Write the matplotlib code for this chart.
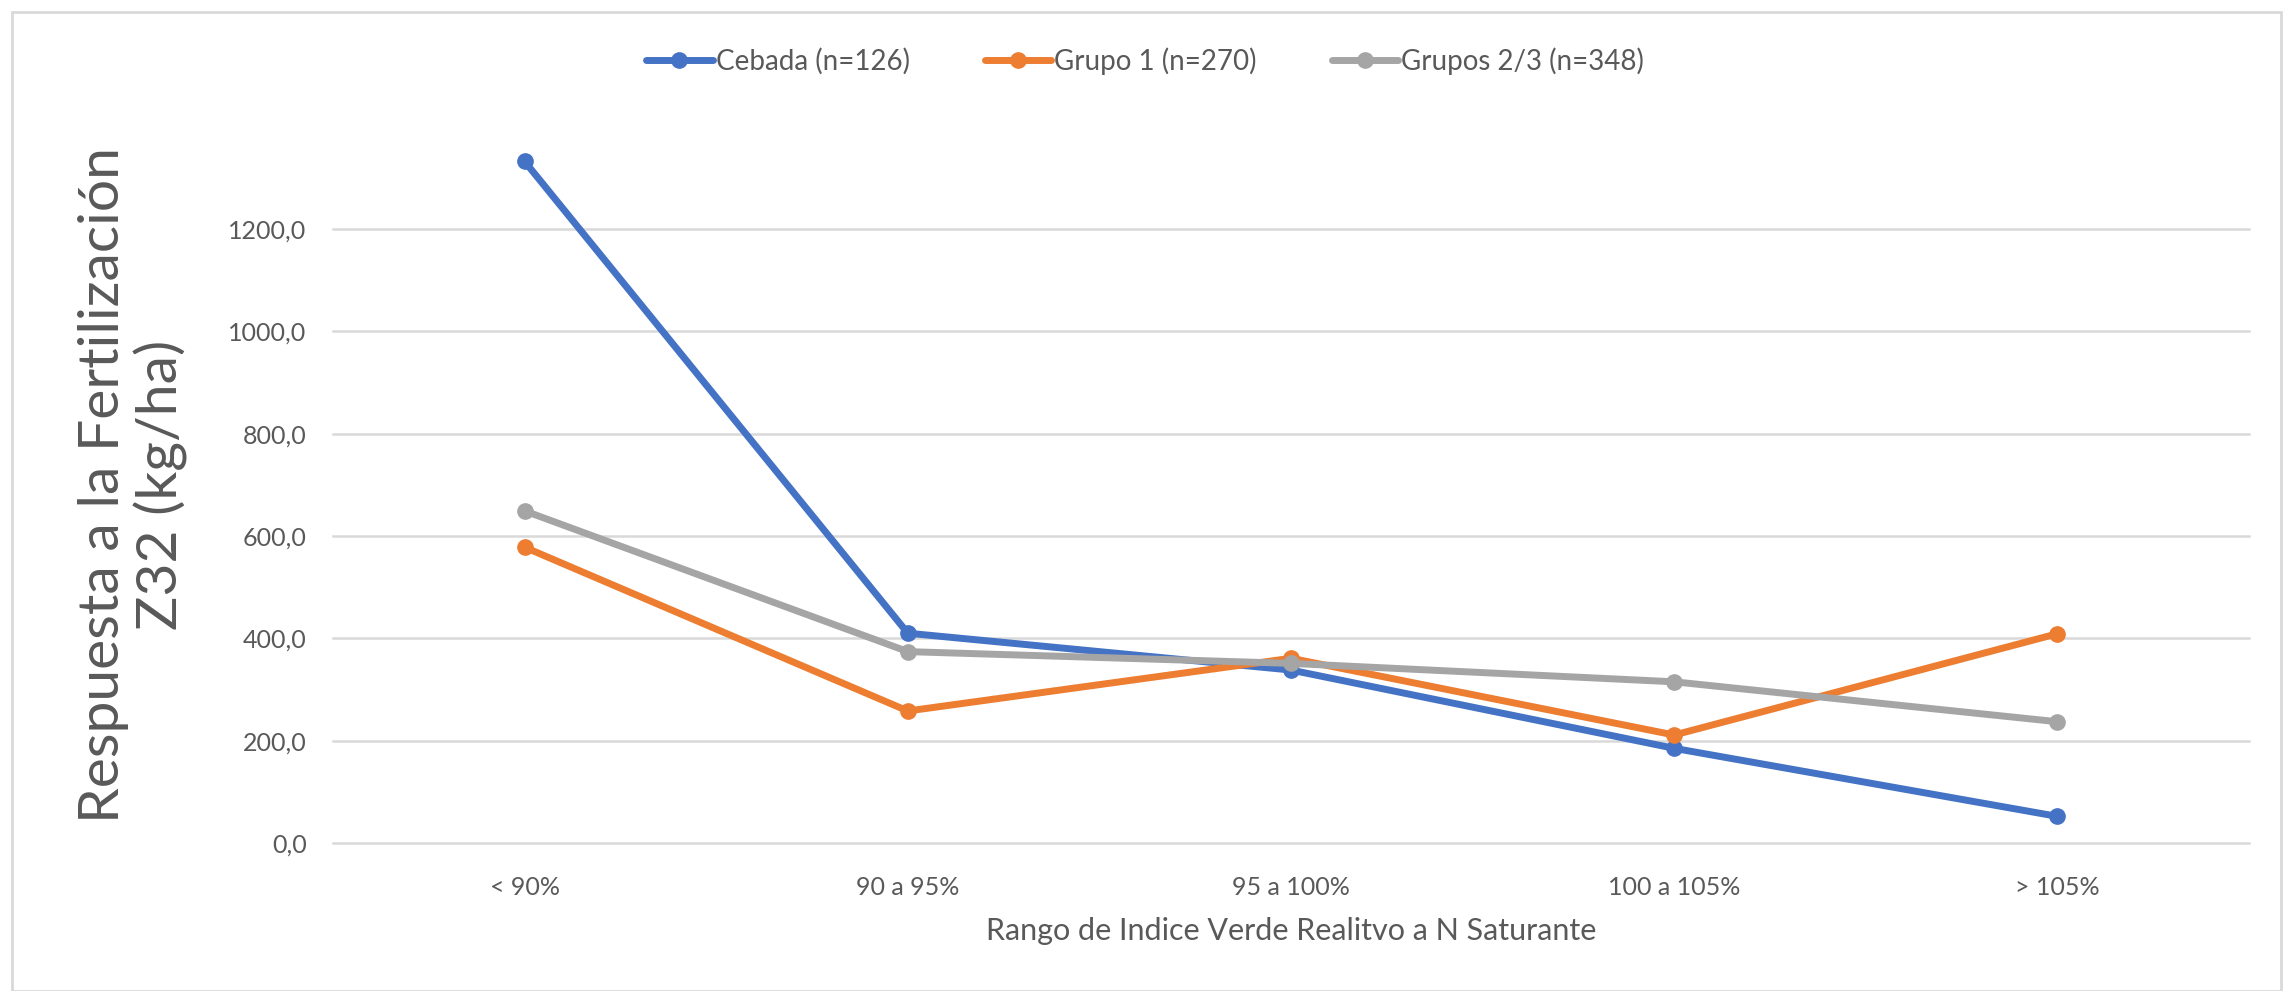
import numpy as np
import matplotlib.pyplot as plt
from matplotlib.patches import Rectangle

# categorias y series (kg/ha)
categorias = ['< 90%', '90 a 95%', '95 a 100%', '100 a 105%', '> 105%']
cebada = [1332, 410, 338, 185, 52]
grupo1 = [578, 258, 361, 211, 409]
grupos23 = [649, 374, 351, 315, 237]
nombres = ['Cebada (n=126)', 'Grupo 1 (n=270)', 'Grupos 2/3 (n=348)']
colores = ['#4472C4', '#ED7D31', '#A5A5A5']

plt.rcParams['font.family'] = ['Lato', 'DejaVu Sans']
texto = '#595959'

fig = plt.figure(figsize=(22.9, 9.91), dpi=100)
ax = fig.add_axes([333/2290, 1 - 843/991, (2249-333)/2290, (843-126.6)/991])

x = np.arange(len(categorias))
for serie, nombre, col in zip([cebada, grupo1, grupos23], nombres, colores):
    ax.plot(x, serie, color=col, lw=5, marker='o', ms=11, label=nombre,
            solid_capstyle='round', zorder=3)

ax.set_xlim(-0.5, len(categorias) - 0.5)
ax.set_ylim(0, 1400)
yt = np.arange(0, 1201, 200)
ax.set_yticks(yt)
ax.set_yticklabels([('%.1f' % v).replace('.', ',') for v in yt])
ax.set_xticks(x)
ax.set_xticklabels(categorias)
ax.grid(axis='y', color='#D9D9D9', lw=1.8)
for l in ax.get_ygridlines():
    l.set_clip_on(False)
ax.set_axisbelow(True)
for s in ax.spines.values():
    s.set_visible(False)
ax.tick_params(length=0, labelsize=18, colors=texto)
ax.tick_params(axis='y', pad=19)
ax.tick_params(axis='x', pad=24)

ax.set_xlabel('Rango de Indice Verde Realitvo a N Saturante', fontsize=22,
              color=texto, labelpad=13)
fig.text(133/2290, 1 - 485/991, 'Respuesta a la Fertilización\nZ32 (kg/ha)',
         rotation=90, ha='center', va='center', multialignment='center',
         fontsize=41, color=texto, linespacing=1.1)

ax.legend(loc='center', bbox_to_anchor=(0.5, (991 - 61) / 991), bbox_transform=fig.transFigure,
          ncol=3, frameon=False, fontsize=20, labelcolor=texto, handlelength=2.4,
          handletextpad=0.1, columnspacing=2.7)

# borde del area del grafico
fig.patches.append(Rectangle((12/2290, 0.0), (2281-12)/2290, 1 - 12/991,
                             transform=fig.transFigure, fill=False,
                             edgecolor='#D9D9D9', lw=2))

fig.savefig('out.png', dpi=100)
